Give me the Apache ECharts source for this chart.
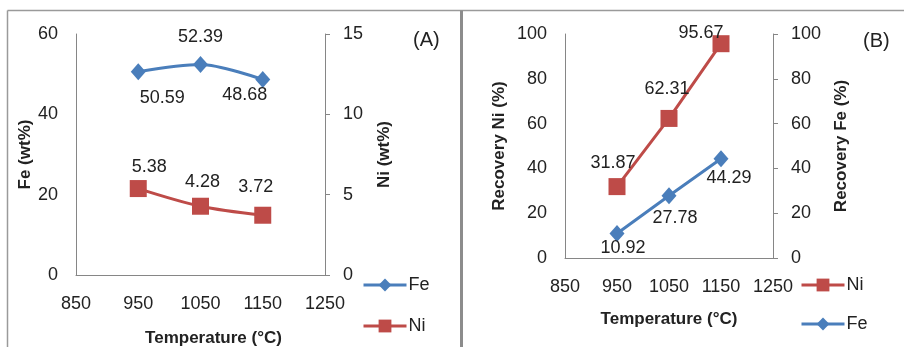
<!DOCTYPE html>
<html>
<head>
<meta charset="utf-8">
<script src="https://cdn.jsdelivr.net/npm/echarts@6/dist/echarts.min.js"></script>
<style>
  html, body { margin: 0; padding: 0; background: #fff; }
  #chart { width: 904px; height: 347px; }
</style>
</head>
<body>
<div id="chart"></div>
<script>
// temperatures (°C) shared by both panels
const temps = [950, 1050, 1150]
const xTicks = { min: 850, max: 1250, step: 100 }

// panel A: grade of the product
const feGrade = [50.59, 52.39, 48.68]
const niGrade = [5.38, 4.28, 3.72]

// panel B: recovery
const niRecovery = [31.87, 62.31, 95.67]
const feRecovery = [10.92, 27.78, 44.29]

// where each value label sits relative to its point (dx, dy)
const feGradeOffsets = [[24, 26], [0, -28], [-18, 16]]
const niGradeOffsets = [[11, -22], [2, -24], [-7, -28]]
const niRecoveryOffsets = [[-4, -24], [-2, -29], [-20, -11]]
const feRecoveryOffsets = [[6, 14], [6, 22], [8, 19]]

const FE_COLOR = '#4A7EBB'
const NI_COLOR = '#BE4B48'
const TEXT = '#222'
const AXIS = '#868686'
const FONT = 'Liberation Sans'

const toPoints = (vals, offsets) => vals.map((v, i) => ({
  value: [temps[i], v],
  label: { offset: offsets[i] }
}))

const xAxisBase = (gridIndex, nameGap, namePad) => ({
  type: 'value',
  gridIndex,
  min: xTicks.min,
  max: xTicks.max,
  interval: xTicks.step,
  name: 'Temperature (°C)',
  nameLocation: 'middle',
  nameGap,
  nameTextStyle: { color: TEXT, fontFamily: FONT, fontWeight: 'bold', fontSize: 17, padding: namePad },
  axisLine: { show: true, lineStyle: { color: AXIS, width: 1 } },
  axisTick: { show: false },
  splitLine: { show: false },
  axisLabel: { color: TEXT, fontFamily: FONT, fontSize: 18, margin: 20, formatter: v => String(v) }
})

const yAxisBase = (gridIndex, position, max, interval, name, nameGap, ticks) => ({
  type: 'value',
  gridIndex,
  position,
  min: 0,
  max,
  interval,
  name,
  nameLocation: 'middle',
  nameRotate: 90,
  nameGap,
  nameTextStyle: { color: TEXT, fontFamily: FONT, fontWeight: 'bold', fontSize: 17 },
  axisLine: { show: true, lineStyle: { color: AXIS, width: 1 } },
  axisTick: { show: ticks, inside: false, length: 5, lineStyle: { color: AXIS } },
  splitLine: { show: false },
  axisLabel: { color: TEXT, fontFamily: FONT, fontSize: 18, margin: 18 }
})

const lineSeries = (name, xAxisIndex, yAxisIndex, data, color, symbol, symbolSize, smooth) => ({
  name,
  type: 'line',
  xAxisIndex,
  yAxisIndex,
  data,
  smooth,
  symbol,
  symbolSize,
  lineStyle: { color, width: 3 },
  itemStyle: { color },
  label: {
    show: true,
    position: 'inside',
    color: TEXT,
    fontFamily: FONT,
    fontSize: 18,
    formatter: p => p.value[1].toFixed(2)
  },
  z: name === 'Fe' ? 3 : 2
})

// one legend per entry so each can sit where the reference has it
const legendItem = (name, left, top) => ({
  left,
  top,
  padding: 0,
  orient: 'vertical',
  itemWidth: 43,
  itemHeight: 16,
  data: [name],
  lineStyle: { width: 3 },
  textStyle: { color: TEXT, fontFamily: FONT, fontSize: 18, padding: [0, 0, 0, -3] }
})

const option = {
  animation: false,
  backgroundColor: '#fff',
  grid: [
    { left: 76, top: 34, width: 249, height: 241, outerBoundsMode: 'none' },
    { left: 565, top: 34, width: 208, height: 224, outerBoundsMode: 'none' }
  ],
  xAxis: [
    xAxisBase(0, 55, [0, 0, 0, 26]),
    xAxisBase(1, 53, [0, 0, 0, 0])
  ],
  yAxis: [
    yAxisBase(0, 'left', 60, 20, 'Fe (wt%)', 42, false),
    yAxisBase(0, 'right', 15, 5, 'Ni (wt%)', 51, true),
    yAxisBase(1, 'left', 100, 20, 'Recovery Ni (%)', 57, false),
    yAxisBase(1, 'right', 100, 20, 'Recovery Fe (%)', 60, true)
  ],
  legend: [
    legendItem('Fe', 362, 276),
    legendItem('Ni', 362, 317),
    legendItem('Ni', 800, 276),
    legendItem('Fe', 800, 315)
  ],
  series: [
    lineSeries('Fe', 0, 0, toPoints(feGrade, feGradeOffsets), FE_COLOR, 'diamond', [15, 17], 0.3),
    lineSeries('Ni', 0, 1, toPoints(niGrade, niGradeOffsets), NI_COLOR, 'rect', 17, 0.3),
    lineSeries('Ni', 1, 2, toPoints(niRecovery, niRecoveryOffsets), NI_COLOR, 'rect', 17, false),
    lineSeries('Fe', 1, 3, toPoints(feRecovery, feRecoveryOffsets), FE_COLOR, 'diamond', [15, 17], false)
  ],
  graphic: [
    // panel frames
    { type: 'line', shape: { x1: 7.5, y1: 10.5, x2: 904, y2: 10.5 }, style: { stroke: '#9a9a9a', lineWidth: 1.5 } },
    { type: 'line', shape: { x1: 7.5, y1: 10.5, x2: 7.5, y2: 347 }, style: { stroke: '#9a9a9a', lineWidth: 1.5 } },
    { type: 'line', shape: { x1: 461.5, y1: 10.5, x2: 461.5, y2: 347 }, style: { stroke: '#8c8c8c', lineWidth: 3 } },
    // panel tags
    { type: 'text', left: 413, top: 30, style: { text: '(A)', fill: TEXT, font: '20px "Liberation Sans"' } },
    { type: 'text', left: 863, top: 31, style: { text: '(B)', fill: TEXT, font: '20px "Liberation Sans"' } }
  ]
}

const myChart = echarts.init(document.getElementById('chart'))
myChart.setOption(option)
</script>
</body>
</html>
